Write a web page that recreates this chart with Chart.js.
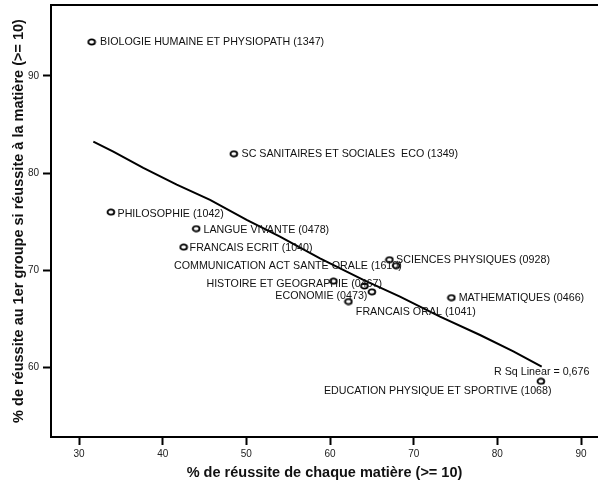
<!DOCTYPE html>
<html>
<head>
<meta charset="utf-8">
<script src="https://cdn.jsdelivr.net/npm/chart.js@4.4.1/dist/chart.umd.min.js"></script>
<style>
html,body{margin:0;padding:0;background:#fff;}
canvas{display:block;}
</style>
</head>
<body>
<canvas id="c" width="598" height="486"></canvas>
<script>
// ---- data ----
const subjects = [
  "BIOLOGIE HUMAINE ET PHYSIOPATH (1347)",
  "SC SANITAIRES ET SOCIALES  ECO (1349)",
  "PHILOSOPHIE (1042)",
  "LANGUE VIVANTE (0478)",
  "FRANCAIS ECRIT (1040)",
  "SCIENCES PHYSIQUES (0928)",
  "COMMUNICATION ACT SANTE ORALE (1610)",
  "",
  "HISTOIRE ET GEOGRAPHIE (0467)",
  "FRANCAIS ORAL (1041)",
  "ECONOMIE (0473)",
  "MATHEMATIQUES (0466)",
  "EDUCATION PHYSIQUE ET SPORTIVE (1068)"
];
const pctMatiere = [31.5, 48.5, 33.8, 44.0, 42.5, 67.1, 67.9, 60.4, 64.1, 65.0, 62.2, 74.5, 85.2];
const pctGroupe  = [93.5, 82.0, 76.0, 74.3, 72.4, 71.1, 70.5, 68.9, 68.4, 67.8, 66.8, 67.2, 58.6];

const fitX = [31.71, 34.10, 37.68, 41.68, 45.66, 50.04, 54.02, 58.80, 63.98, 68.36, 73.15, 77.93, 81.91, 85.30];
const fitY = [83.24, 82.22, 80.55, 78.82, 77.25, 75.19, 73.47, 71.25, 69.02, 67.30, 65.25, 63.36, 61.68, 60.10];
const rSqLabel = "R Sq Linear = 0,676";

const xTicks = [30, 40, 50, 60, 70, 80, 90];
const yTicks = [60, 70, 80, 90];
const xTitle = "% de réussite de chaque matière (>= 10)";
const yTitle = "% de réussite au 1er groupe si réussite à la matière (>= 10)";

// ---- label layout (pixel offsets from each point: align, dx, dy) ----
const labelLayout = [
  ["left", 8.5, 0], ["left", 7.7, 0], ["left", 6.7, 1.7], ["left", 7.3, 1],
  ["left", 6, 1], ["left", 6.7, 0], ["right", 5.7, 0.7], ["left", 0, 0],
  ["right", 17.7, -1.7], ["left", -16, 20.4], ["right", 19, -6],
  ["left", 7.3, 0.6], ["right", 10.7, 9.4]
];

// ellipse marker
const marker = document.createElement('canvas');
marker.width = 10; marker.height = 8;
(function(){
  const m = marker.getContext('2d');
  m.strokeStyle = '#000'; m.lineWidth = 1.8;
  m.beginPath(); m.ellipse(5, 4, 3.4, 2.6, 0, 0, Math.PI*2); m.stroke();
})();

const FONT = "'Liberation Sans', Arial, sans-serif";

const labelPlugin = {
  id: 'labels',
  afterDatasetsDraw(chart) {
    const ctx = chart.ctx;
    const meta = chart.getDatasetMeta(0);
    ctx.save();
    ctx.font = "10.7px " + FONT;
    ctx.fillStyle = '#111';
    ctx.textBaseline = 'middle';
    meta.data.forEach((pt, i) => {
      const txt = subjects[i];
      if (!txt) return;
      const [al, dx, dy] = labelLayout[i];
      ctx.textAlign = al;
      ctx.fillText(txt, pt.x + dx, pt.y + dy);
    });
    const fm = chart.getDatasetMeta(1).data;
    const last = fm[fm.length - 1];
    ctx.textAlign = 'center';
    ctx.fillText(rSqLabel, last.x, last.y + 5);
    // top frame line
    const a = chart.chartArea;
    ctx.strokeStyle = '#000';
    ctx.lineWidth = 2;
    ctx.beginPath(); ctx.moveTo(a.left - 1, a.top); ctx.lineTo(a.right, a.top); ctx.stroke();
    ctx.restore();
  }
};

function zeroPad(s) { s.paddingTop = 0; s.paddingBottom = 0; s.paddingLeft = 0; s.paddingRight = 0; }

new Chart(document.getElementById('c'), {
  type: 'scatter',
  data: {
    datasets: [
      {
        data: pctMatiere.map((x, i) => ({x, y: pctGroupe[i]})),
        pointStyle: marker,
        pointRadius: 4,
        showLine: false,
        clip: false
      },
      {
        type: 'line',
        data: fitX.map((x, i) => ({x, y: fitY[i]})),
        borderColor: '#000',
        borderWidth: 2,
        pointRadius: 0,
        tension: 0,
        fill: false
      }
    ]
  },
  options: {
    responsive: false,
    animation: false,
    devicePixelRatio: 1,
    layout: { autoPadding: false, padding: { top: 5, left: 0, right: 0, bottom: 0 } },
    plugins: { legend: { display: false }, tooltip: { enabled: false } },
    scales: {
      x: {
        type: 'linear',
        min: 26.65, max: 92.03,
        afterFit(s) { s.height = 49; zeroPad(s); },
        afterBuildTicks(s) { s.ticks = xTicks.map(v => ({value: v})); },
        grid: { drawOnChartArea: false, drawTicks: true, tickLength: 8, tickWidth: 2, tickColor: '#000', color: '#000' },
        border: { display: true, color: '#000', width: 2 },
        ticks: { color: '#222', font: { size: 10, family: FONT }, padding: 3, maxRotation: 0 },
        title: { display: true, text: xTitle, color: '#111', font: { size: 14.5, weight: 'bold', family: FONT }, padding: { top: 0, bottom: 4.8 } }
      },
      y: {
        type: 'linear',
        min: 52.87, max: 97.30,
        afterFit(s) { s.width = 51; zeroPad(s); },
        afterBuildTicks(s) { s.ticks = yTicks.map(v => ({value: v})); },
        grid: { drawOnChartArea: false, drawTicks: true, tickLength: 8, tickWidth: 2, tickColor: '#000', color: '#000' },
        border: { display: true, color: '#000', width: 2 },
        ticks: { color: '#222', font: { size: 10, family: FONT }, padding: 4 },
        title: { display: true, text: yTitle, color: '#111', font: { size: 14.5, weight: 'bold', family: FONT }, padding: { top: 10, bottom: 0 } }
      }
    }
  },
  plugins: [labelPlugin]
});
</script>
</body>
</html>
